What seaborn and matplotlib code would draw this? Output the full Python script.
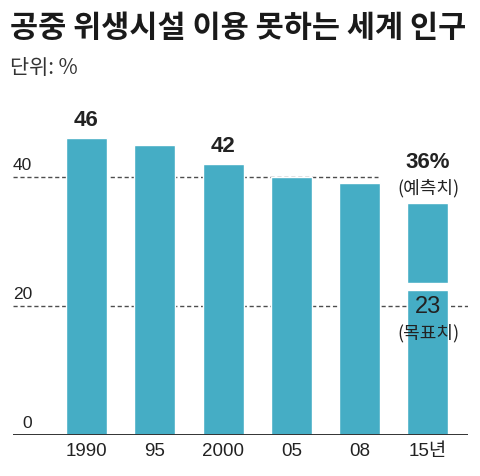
import matplotlib
matplotlib.use("Agg")
import matplotlib.pyplot as plt
import matplotlib.transforms as mtransforms
from matplotlib import font_manager
import seaborn as sns
import pandas as pd

# data
years = ["1990", "95", "2000", "05", "08", "15년"]
values = [46, 45, 42, 40, 39, 36]
target_value = 23
labeled = {"1990": "46", "2000": "42"}
y_ticks = [0, 20, 40]

df = pd.DataFrame({"year": years, "pct": values})

sns.set_theme(style="white")

# narrow face for the numbers if there is one, else Liberation Sans
installed = {f.name for f in font_manager.fontManager.ttflist}
num_face = "Liberation Sans Narrow" if "Liberation Sans Narrow" in installed else "Liberation Sans"
NUM = [num_face, "Noto Sans CJK KR", "DejaVu Sans"]
KR = ["Noto Sans CJK KR", "DejaVu Sans"]
plt.rcParams["font.family"] = NUM

bar_color = "#45adc5"
ink = "#222222"

fig = plt.figure(figsize=(4.8, 4.76), dpi=100)
ax = fig.add_axes([13 / 480, 41 / 476, 455 / 480, 335.4 / 476])

sns.barplot(data=df, x="year", y="pct", color=bar_color, width=0.6,
            saturation=1, ax=ax, zorder=3)

ax.set_ylim(0, 52)
ax.set_xlim(-1.076, 5.586)

# dashed guide lines
ax.axhline(40, xmin=0, xmax=0.802, color="#4d4d4d", lw=1.0, ls=(0, (3, 2)), zorder=1)
ax.axhline(20, xmin=0, xmax=1, color="#4d4d4d", lw=1.0, ls=(0, (3, 2)), zorder=1)
ax.axhline(0, color="#333333", lw=1.4, zorder=4)

# gap in the last bar marking the target
last = len(years) - 1
ax.bar(last, 1.0, bottom=target_value - 0.5, width=0.66, color="white", zorder=4)

# y tick labels sitting above the lines
trans = mtransforms.blended_transform_factory(ax.transAxes, ax.transData)
for t in y_ticks:
    ax.text(0.0418, t + 0.6, str(t), transform=trans, ha="right", va="bottom",
            fontsize=12.5, color=ink, family=NUM)

# value labels
for i, yr in enumerate(years):
    if yr in labeled:
        ax.text(i, values[i] + 1.1, labeled[yr], ha="center", va="bottom",
                fontsize=16, fontweight="bold", color=ink, family=NUM)

ax.text(last, values[last] + 6.2, f"{values[last]}%", ha="center", va="center",
        fontsize=16, fontweight="bold", color=ink, family=NUM)
ax.text(last, values[last] + 2.3, "(예측치)", ha="center", va="center",
        fontsize=13, color=ink, family=KR)
ax.text(last, target_value - 3.1, str(target_value), ha="center", va="center",
        fontsize=17, color=ink, family=NUM)
ax.text(last, target_value - 7.2, "(목표치)", ha="center", va="center",
        fontsize=13, color=ink, family=KR)

ax.set_xlabel("")
ax.set_ylabel("")
ax.set_yticks([])
ax.tick_params(axis="x", length=0, pad=6, labelsize=13.5, colors=ink)
for lab in ax.get_xticklabels():
    lab.set_family(NUM)
sns.despine(ax=ax, left=True, bottom=True)

fig.text(10 / 480, 1 - 28 / 476, "공중 위생시설 이용 못하는 세계 인구",
         fontsize=22, fontweight="bold", color="#1a1a1a", va="center", family=KR)
fig.text(10 / 480, 1 - 68 / 476, "단위: %", fontsize=15, color="#333333",
         va="center", family=KR, fontweight="light")

fig.savefig("out.png", dpi=100)
